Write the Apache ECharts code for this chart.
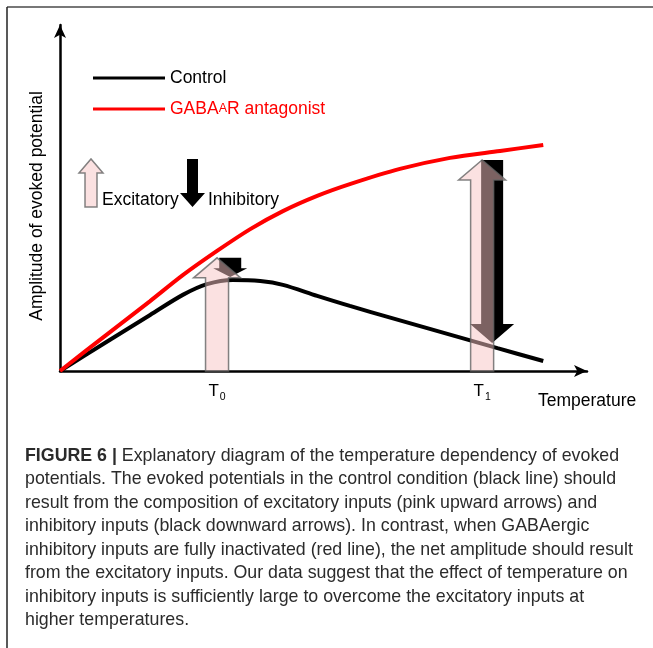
<!DOCTYPE html>
<html>
<head>
<meta charset="utf-8">
<script src="https://cdn.jsdelivr.net/npm/echarts@6/dist/echarts.min.js"></script>
<style>
  html, body { margin: 0; padding: 0; background: #fff; }
  #chart { width: 653px; height: 648px; }
</style>
</head>
<body>
<div id="chart"></div>
<script>
// curves: [temperature, amplitude] in arbitrary units (0-100)
const controlCurve = [[0, 0], [8.5, 8.1], [17.1, 16.2], [23.3, 22.0], [27.9, 25.1], [32.8, 26.3],
  [38.0, 26.0], [42.3, 24.9], [48.8, 21.7], [55.0, 18.8], [63.0, 15.3], [75.0, 10.1], [83.0, 6.6], [91.7, 2.9]]
const antagonistCurve = [[0, 0], [8.5, 10.1], [17.1, 20.2], [23.3, 27.7], [29.8, 34.7], [36.1, 41.0], [42.3, 46.2],
  [48.8, 50.6], [55.0, 54.0], [64.5, 58.4], [74.0, 61.6], [83.5, 63.6], [91.7, 65.3]]
// excitatory arrows: [x, top]; inhibitory arrows: [x, from, to]
const excitatory = [[29.8, 32.7], [80.1, 61.0]]
const inhibitory = [[32.3, 32.7, 27.2], [82.0, 61.0, 8.1]]
const tempLabels = ['0', '1']

const seriesNames = ['Control', 'GABAAR antagonist']
const caption = [
  '{b|FIGURE 6 |} Explanatory diagram of the temperature dependency of evoked',
  'potentials. The evoked potentials in the control condition (black line) should',
  'result from the composition of excitatory inputs (pink upward arrows) and',
  'inhibitory inputs (black downward arrows). In contrast, when GABAergic',
  'inhibitory inputs are fully inactivated (red line), the net amplitude should result',
  'from the excitatory inputs. Our data suggest that the effect of temperature on',
  'inhibitory inputs is sufficiently large to overcome the excitatory inputs at',
  'higher temperatures.'
]

const FONT = 'Liberation Sans, Arial, sans-serif'
const PINK = 'rgba(247, 196, 196, 0.5)'
const PINK_EDGE = 'rgba(100, 100, 100, 0.8)'

// arrow outline, base -> tip (pixel coords)
function arrowPoints (x, yBase, yTip, bodyHalf, headHalf, headLen) {
  const dir = yBase > yTip ? 1 : -1
  const yHead = yTip + dir * headLen
  return [
    [x - bodyHalf, yBase], [x - bodyHalf, yHead], [x - headHalf, yHead], [x, yTip],
    [x + headHalf, yHead], [x + bodyHalf, yHead], [x + bodyHalf, yBase]
  ]
}

const chart = echarts.init(document.getElementById('chart'), null, { renderer: 'canvas' })

const captionTexts = caption.map((line, i) => ({
  type: 'text',
  left: 25,
  top: 447 + i * 23.5,
  style: {
    text: line,
    font: '17.8px ' + FONT,
    fill: '#2b2b2b',
    rich: { b: { fontWeight: 'bold', fontSize: 17.8, fontFamily: FONT, color: '#1a1a1a' } }
  }
}))

chart.setOption({
  animation: false,
  grid: { left: 60, right: 66, top: 25, bottom: 277 },
  legend: {
    orient: 'vertical',
    left: 88,
    top: 64,
    icon: 'rect',
    itemWidth: 72,
    itemHeight: 3,
    itemGap: 13,
    selectedMode: false,
    data: [
      { name: seriesNames[0] },
      { name: seriesNames[1], textStyle: { color: '#ff0000' } }
    ],
    textStyle: {
      fontFamily: FONT,
      fontSize: 17.5,
      color: '#000',
      rich: { s: { fontSize: 12.5, color: '#ff0000', fontFamily: FONT } }
    },
    formatter: name => name === seriesNames[1] ? 'GABA{s|A}R antagonist' : name
  },
  xAxis: {
    type: 'value',
    min: 0,
    max: 100,
    axisLine: {
      lineStyle: { color: '#000', width: 2.5 },
      symbol: ['none', 'arrow'],
      symbolSize: [9, 13],
      symbolOffset: [0, 0]
    },
    axisTick: { show: false },
    splitLine: { show: false },
    axisLabel: {
      customValues: excitatory.map(a => a[0]),
      margin: 9,
      formatter: (v) => {
        const i = excitatory.findIndex(a => a[0] === v)
        return 'T{s|' + tempLabels[i] + '}'
      },
      color: '#000',
      fontFamily: FONT,
      fontSize: 17,
      rich: { s: { fontSize: 10.5, color: '#000', verticalAlign: 'bottom', padding: [12, 0, 0, 1], fontFamily: FONT } }
    }
  },
  yAxis: {
    type: 'value',
    min: 0,
    max: 100,
    axisLine: {
      show: true,
      lineStyle: { color: '#000', width: 2.5 },
      symbol: ['none', 'arrow'],
      symbolSize: [9, 13],
      symbolOffset: [0, 0]
    },
    axisTick: { show: false },
    splitLine: { show: false },
    axisLabel: { show: false }
  },
  series: [
    {
      name: seriesNames[0],
      type: 'line',
      data: controlCurve,
      smooth: 0.3,
      symbol: 'none',
      color: '#000',
      lineStyle: { color: '#000', width: 4 },
      z: 2
    },
    {
      name: seriesNames[1],
      type: 'line',
      data: antagonistCurve,
      smooth: 0.3,
      symbol: 'none',
      color: '#ff0000',
      lineStyle: { color: '#ff0000', width: 4 },
      z: 2
    },
    {
      type: 'custom',
      data: inhibitory,
      z: 3,
      renderItem: (params, api) => {
        const from = api.coord([api.value(0), api.value(1)])
        const to = api.coord([api.value(0), api.value(2)])
        const len = to[1] - from[1]
        const headLen = Math.min(19, len * 0.45)
        const headHalf = len < 40 ? 17 : 22
        return {
          type: 'polygon',
          shape: { points: arrowPoints(from[0], from[1], to[1], 11, headHalf, headLen) },
          style: { fill: '#000' }
        }
      }
    },
    {
      type: 'custom',
      data: excitatory,
      z: 4,
      renderItem: (params, api) => {
        const base = api.coord([api.value(0), 0])
        const tip = api.coord([api.value(0), api.value(1)])
        return {
          type: 'polygon',
          shape: { points: arrowPoints(base[0], base[1], tip[1], 11.5, 23.5, 20) },
          style: { fill: PINK, stroke: PINK_EDGE, lineWidth: 1.5 }
        }
      }
    }
  ],
  graphic: [
    // frame
    { type: 'line', shape: { x1: 7, y1: 7, x2: 653, y2: 7 }, style: { stroke: '#777', lineWidth: 2 } },
    { type: 'line', shape: { x1: 7, y1: 7, x2: 7, y2: 648 }, style: { stroke: '#222', lineWidth: 1.5 } },
    // axis names
    {
      type: 'text', x: 37, y: 206, rotation: Math.PI / 2,
      style: { text: 'Amplitude of evoked potential', font: '17.5px ' + FONT, fill: '#000', align: 'center', verticalAlign: 'middle' }
    },
    {
      type: 'text', x: 538, y: 401,
      style: { text: 'Temperature', font: '17.5px ' + FONT, fill: '#000', verticalAlign: 'middle' }
    },
    // arrow key
    {
      type: 'polygon',
      shape: { points: arrowPoints(91, 207, 159, 6, 12, 14) },
      style: { fill: PINK, stroke: PINK_EDGE, lineWidth: 1.5 }
    },
    {
      type: 'text', x: 102, y: 200,
      style: { text: 'Excitatory', font: '17.5px ' + FONT, fill: '#000', verticalAlign: 'middle' }
    },
    {
      type: 'polygon',
      shape: { points: arrowPoints(192.5, 159, 207, 5.5, 12.5, 14) },
      style: { fill: '#000' }
    },
    {
      type: 'text', x: 208, y: 200,
      style: { text: 'Inhibitory', font: '17.5px ' + FONT, fill: '#000', verticalAlign: 'middle' }
    }
  ].concat(captionTexts)
})
</script>
</body>
</html>
